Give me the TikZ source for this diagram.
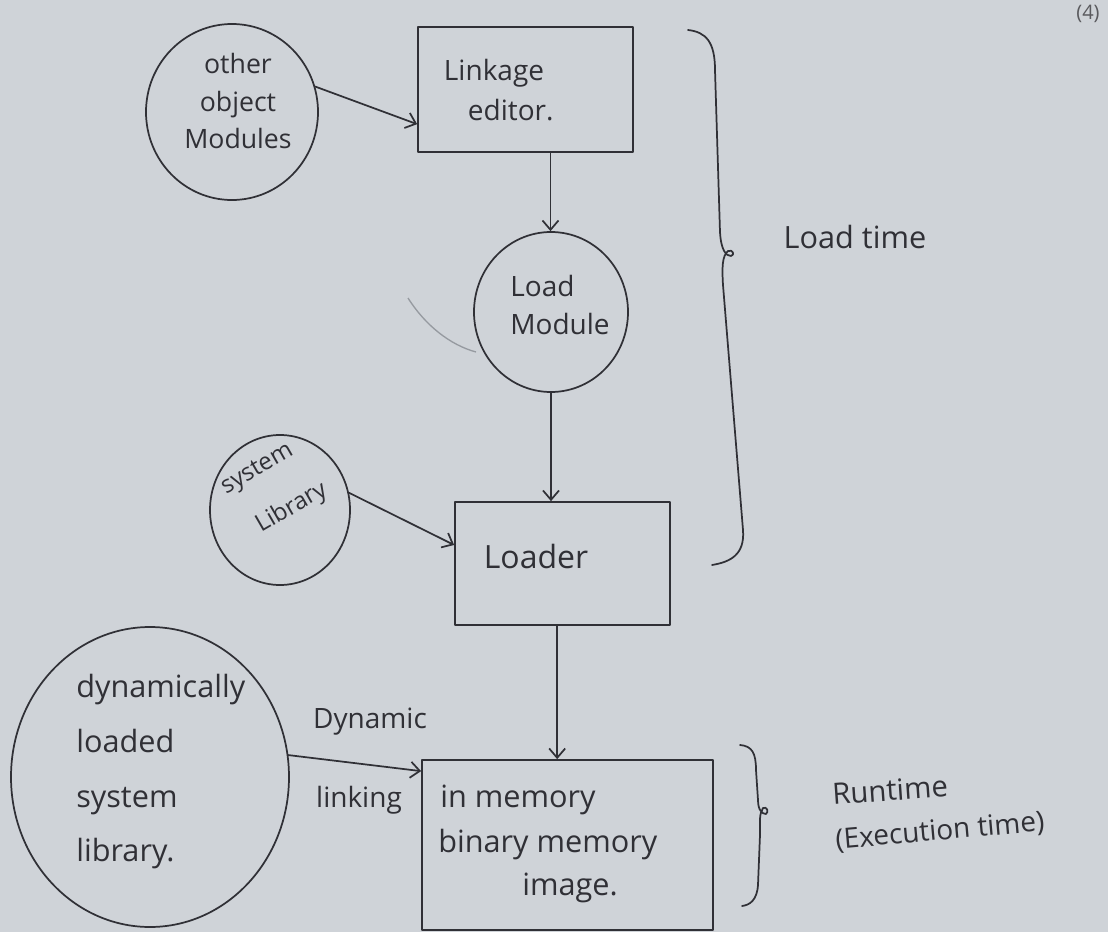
\documentclass[tikz,border=0pt]{standalone}
\usepackage{fontspec}
\setmainfont{Open Sans}
\usetikzlibrary{shapes.geometric,arrows.meta}

\definecolor{paper}{RGB}{207,211,216}
\definecolor{ink}{RGB}{48,48,54}
\definecolor{faint}{RGB}{150,154,160}

\tikzset{
  pen/.style={draw=ink, line width=1.3pt, line cap=round, line join=round},
  boxnode/.style={pen, rectangle, inner sep=0pt},
  blob/.style={pen, ellipse, inner sep=0pt},
  arr/.style={pen, -{Straight Barb[length=7pt,width=12pt,line width=1.3pt]}},
  hand/.style={text=ink, inner sep=0pt},
}

\begin{document}
\begin{tikzpicture}[x=0.75pt,y=-0.75pt]
  % paper
  \fill[paper] (0,0) rectangle (1108,932);
  \path[use as bounding box] (0,0) rectangle (1108,932);

  % shapes
  \node[blob, minimum width=172*0.75pt, minimum height=176*0.75pt] (other) at (232,112) {};
  \node[boxnode, minimum width=215*0.75pt, minimum height=125*0.75pt] (link) at (525.5,89.5) {};
  \node[blob, minimum width=154*0.75pt, minimum height=160*0.75pt] (loadmod) at (551,312) {};
  \node[blob, minimum width=140*0.75pt, minimum height=150*0.75pt] (syslib) at (280,510) {};
  \node[boxnode, minimum width=215*0.75pt, minimum height=123*0.75pt] (loader) at (562.5,563.5) {};
  \node[blob, minimum width=278*0.75pt, minimum height=300*0.75pt] (dyn) at (150,777) {};
  \node[boxnode, minimum width=291*0.75pt, minimum height=170*0.75pt] (mem) at (567.5,845) {};

  % texts inside the shapes
  \node[hand, align=center, font={\fontsize{20}{28}\selectfont}] (othertxt) at (238,101) {other\\object\\Modules};
  \node[hand, align=center, font={\fontsize{21}{30}\selectfont}] (linktxt) at (494,90) {Linkage\\\hspace*{1.2em}editor.};
  \node[hand, align=left, font={\fontsize{21}{28}\selectfont}] (loadtxt) at (560,305) {Load\\Module};
  \node[hand, rotate=30, font={\fontsize{18}{22}\selectfont}] (systxt1) at (258,470) {system};
  \node[hand, rotate=30, font={\fontsize{18}{22}\selectfont}] (systxt2) at (292,508) {Library};
  \node[hand, font={\fontsize{24}{30}\selectfont}] (loadertxt) at (536,556) {Loader};
  \node[hand, anchor=west, align=left, font={\fontsize{23}{41}\selectfont}] (dyntxt) at (76,772) {dynamically\\loaded\\system\\library.};
  \node[hand, anchor=west, font={\fontsize{23}{30}\selectfont}] (memtxt1) at (440,800) {in memory};
  \node[hand, anchor=west, font={\fontsize{23}{30}\selectfont}] (memtxt2) at (438,845) {binary memory};
  \node[hand, font={\fontsize{23}{30}\selectfont}] (memtxt3) at (570,888) {image.};

  % connectors
  \draw[arr] (other.17) -- ([yshift=-26pt]link.west);
  \draw[arr] ([xshift=18.75pt]link.south) -- ([xshift=18.75pt]link.south |- loadmod.north);
  \draw[arr] (loadmod.south) -- (loadmod.south |- loader.north);
  \draw[arr] (syslib.14) -- ([yshift=13.9pt]loader.west);
  \draw[arr] ([xshift=-4pt]loader.south) -- ([xshift=-4pt]loader.south |- mem.north);
  \draw[arr] (dyn.9) -- ([yshift=-9pt]mem.north west);

  % connector labels
  \node[hand, font={\fontsize{21}{26}\selectfont}] (dynlbl) at (370,722) {Dynamic};
  \node[hand, font={\fontsize{21}{26}\selectfont}] (linklbl) at (359,800) {linking};

  % stray pencil stroke beside the load module
  \draw[faint, line width=1pt] (408,298) .. controls (425,325) and (450,345) .. (476,352);

  % brace for load time
  \draw[pen] (688,30) .. controls (706,32) and (715,42) .. (715,70)
    -- (720,232) .. controls (721,250) and (726,256) .. (731,256)
    .. controls (735,255) and (733,249) .. (728,251)
    .. controls (722,256) and (722,268) .. (723,285)
    -- (743,530) .. controls (745,555) and (730,562) .. (712,565);
  \node[hand, font={\fontsize{23}{28}\selectfont}] (loadtime) at (855,237) {Load time};

  % brace for runtime
  \draw[pen] (740,745) .. controls (752,746) and (756,753) .. (756,770)
    -- (758,800) .. controls (758,810) and (762,814) .. (766,814)
    .. controls (769,812) and (767,806) .. (763,808)
    .. controls (759,814) and (760,822) .. (760,835)
    -- (758,885) .. controls (757,900) and (750,905) .. (742,906);
  \node[hand, rotate=4, font={\fontsize{22}{28}\selectfont}] (runtime) at (890,790) {Runtime};
  \node[hand, rotate=5, font={\fontsize{21}{28}\selectfont}] (exectime) at (940,832) {(Execution time)};

  % page number in the corner
  \node[hand, text=ink!80, font={\fontsize{15}{18}\selectfont}] (pageno) at (1088,14) {(4)};
\end{tikzpicture}
\end{document}
